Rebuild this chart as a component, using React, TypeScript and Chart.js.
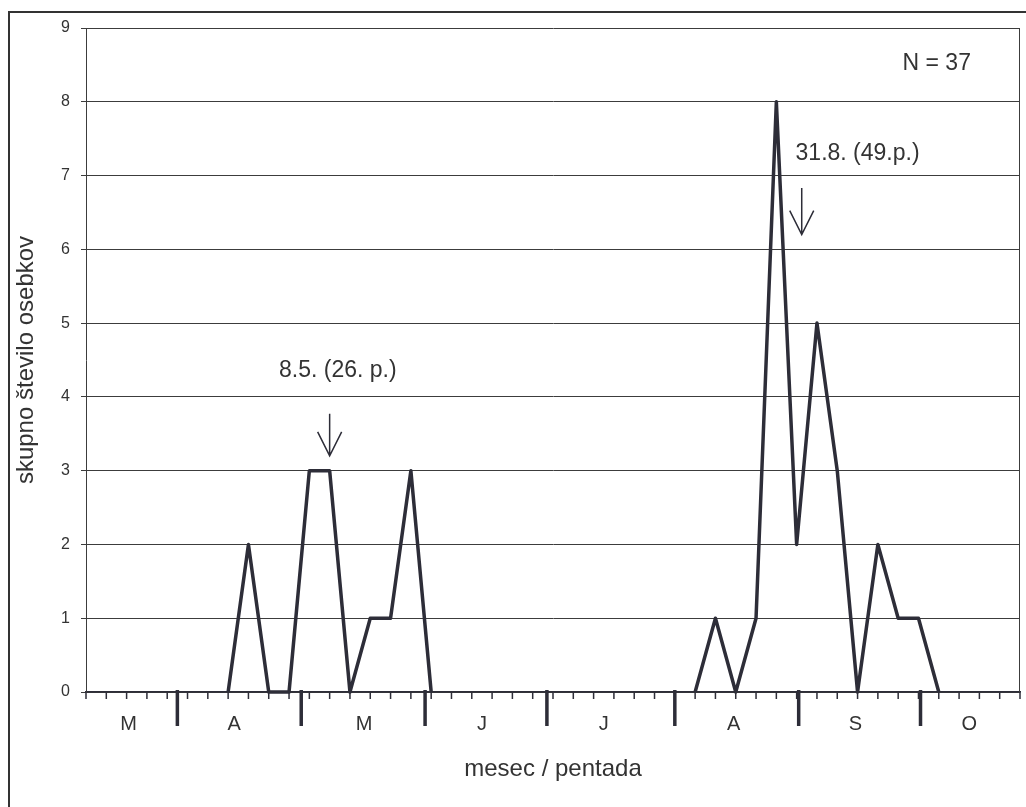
import { useEffect, useRef } from "react";
import Chart from "chart.js/auto";

// pentade (5-day periods of the year), from the 14th to the 60th
const pentads = [
  14, 15, 16, 17, 18, 19, 20, 21, 22, 23, 24, 25, 26, 27, 28, 29, 30, 31, 32, 33, 34, 35, 36, 37,
  38, 39, 40, 41, 42, 43, 44, 45, 46, 47, 48, 49, 50, 51, 52, 53, 54, 55, 56, 57, 58, 59, 60,
];
// skupno število osebkov per pentada (null = no line drawn)
const counts = [
  null, null, null, null, null, null, null, 0, 2, 0, // 14-23
  0, 3, 3, 0, 1, 1, 3, 0, null, null, // 24-33
  null, null, null, null, null, null, null, null, null, null, // 34-43
  0, 1, 0, 1, 8, 2, 5, 3, 0, 2, // 44-53
  1, 1, 0, null, null, null, null, // 54-60
];

const months = ["M", "A", "M", "J", "J", "A", "S", "O"];
const monthCenters = [16.1, 21.3, 27.7, 33.5, 39.5, 45.9, 51.9, 57.5];
const monthBounds = [18.5, 24.6, 30.7, 36.7, 43.0, 49.1, 55.1];

const yMin = 0;
const yMax = 9;

// annotations (in axis units)
const noteTexts = ["8.5. (26. p.)", "31.8. (49.p.)", "N = 37"];
const noteX = [26.4, 52.0, 55.9];
const noteY = [4.36, 7.3, 8.51];
const arrowX = [26, 49.25];
const arrowTop = [3.77, 6.83];
const arrowTip = [3.2, 6.2];

const FONT = "'Liberation Sans', Arial, sans-serif";
const INK = "#2d2d38";
const GRID = "#3c3c3c";
const TEXT = "#333333";

const overlay = {
  id: "overlay",
  afterDraw(chart) {
    const { ctx, chartArea, scales } = chart;
    const xs = scales.x;
    const ys = scales.y;
    const bottom = chartArea.bottom;
    ctx.save();

    // right edge of plot
    ctx.strokeStyle = GRID;
    ctx.lineWidth = 1;
    ctx.beginPath();
    ctx.moveTo(chartArea.right - 0.5, chartArea.top);
    ctx.lineTo(chartArea.right - 0.5, bottom);
    ctx.stroke();

    // small ticks, one per pentada
    ctx.strokeStyle = INK;
    ctx.lineWidth = 1.5;
    ctx.beginPath();
    pentads.forEach((p) => {
      const px = xs.getPixelForValue(p);
      ctx.moveTo(px, bottom);
      ctx.lineTo(px, bottom + 7);
    });
    ctx.stroke();

    // long ticks between months
    ctx.lineWidth = 3.5;
    ctx.beginPath();
    monthBounds.forEach((b) => {
      const px = xs.getPixelForValue(b);
      ctx.moveTo(px, bottom - 2);
      ctx.lineTo(px, bottom + 34);
    });
    ctx.stroke();

    // arrows
    ctx.lineWidth = 1.5;
    arrowX.forEach((ax, i) => {
      const px = xs.getPixelForValue(ax);
      const top = ys.getPixelForValue(arrowTop[i]);
      const tip = ys.getPixelForValue(arrowTip[i]);
      ctx.beginPath();
      ctx.moveTo(px, top);
      ctx.lineTo(px, tip);
      ctx.moveTo(px - 12, tip - 24);
      ctx.lineTo(px, tip);
      ctx.lineTo(px + 12, tip - 24);
      ctx.stroke();
    });

    // texts
    ctx.fillStyle = TEXT;
    ctx.font = `23px ${FONT}`;
    ctx.textAlign = "center";
    ctx.textBaseline = "middle";
    noteTexts.forEach((t, i) => {
      ctx.fillText(t, xs.getPixelForValue(noteX[i]), ys.getPixelForValue(noteY[i]));
    });

    ctx.restore();
  },
};

export default function App() {
  const ref = useRef(null);

  useEffect(() => {
    if (!ref.current) return;
    const chart = new Chart(ref.current, {
      type: "line",
      data: {
        datasets: [
          {
            label: "osebki",
            data: pentads.map((p, i) => ({ x: p, y: counts[i] })),
            borderColor: INK,
            borderWidth: 3.5,
            pointRadius: 0,
            tension: 0,
            fill: false,
            spanGaps: false,
            clip: false,
            borderJoinStyle: "round",
          },
        ],
      },
      options: {
        responsive: false,
        animation: false,
        layout: { padding: { left: 10, top: 28, right: 6, bottom: 0 } },
        plugins: {
          legend: { display: false },
          tooltip: { enabled: false },
        },
        scales: {
          x: {
            type: "linear",
            min: pentads[0],
            max: pentads[pentads.length - 1],
            afterBuildTicks: (scale) => {
              scale.ticks = monthCenters.map((v) => ({ value: v }));
            },
            afterFit: (scale) => {
              scale.height = 115;
            },
            ticks: {
              autoSkip: false,
              maxRotation: 0,
              padding: 20,
              color: TEXT,
              font: { family: FONT, size: 20 },
              callback: (value, index) => months[index] ?? "",
            },
            grid: { display: true, drawOnChartArea: false, drawTicks: false },
            border: { display: true, color: INK, width: 1.5 },
            title: {
              display: true,
              text: "mesec / pentada",
              color: TEXT,
              font: { family: FONT, size: 24 },
              padding: { top: 0, bottom: 23 },
            },
          },
          y: {
            min: yMin,
            max: yMax,
            afterFit: (scale) => {
              scale.width = 76;
            },
            ticks: {
              stepSize: 1,
              padding: 11,
              color: TEXT,
              font: { family: FONT, size: 16 },
            },
            grid: {
              color: GRID,
              lineWidth: 1,
              tickLength: 5,
              tickColor: GRID,
            },
            border: { display: true, color: GRID, width: 1 },
            title: {
              display: true,
              text: "skupno število osebkov",
              color: TEXT,
              font: { family: FONT, size: 24 },
              padding: { top: 2, bottom: 0 },
            },
          },
        },
      },
      plugins: [overlay],
    });

    return () => {
      chart.destroy();
    };
  }, []);

  return (
    <div
      style={{
        position: "absolute",
        left: 0,
        top: 0,
        width: 1026,
        height: 807,
        background: "#fff",
        overflow: "hidden",
      }}
    >
      <div
        style={{
          position: "absolute",
          left: 8,
          top: 11,
          width: 1100,
          height: 900,
          borderLeft: "2px solid #333",
          borderTop: "2px solid #333",
        }}
      />
      <canvas ref={ref} width={1026} height={807} style={{ position: "absolute", left: 0, top: 0 }}></canvas>
    </div>
  );
}
